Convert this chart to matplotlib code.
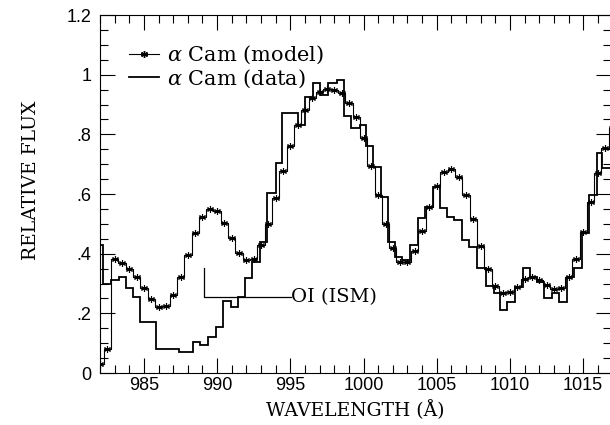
import matplotlib
matplotlib.use("Agg")
import matplotlib.pyplot as plt
from matplotlib.lines import Line2D
import numpy as np

# Synthetic spectrum (model): 0.5 A bins, values at bin centres
model_wave = np.arange(982.0, 1017.01, 0.5)
model_flux = [
    0.030, 0.080, 0.381, 0.368, 0.350, 0.321, 0.284, 0.247, 0.220, 0.225,
    0.260, 0.321, 0.395, 0.468, 0.524, 0.551, 0.542, 0.504, 0.451, 0.403,
    0.379, 0.381, 0.429, 0.498, 0.586, 0.678, 0.762, 0.831, 0.882, 0.921,
    0.941, 0.951, 0.949, 0.938, 0.904, 0.859, 0.787, 0.694, 0.597, 0.498,
    0.420, 0.373, 0.371, 0.409, 0.477, 0.557, 0.627, 0.675, 0.684, 0.658,
    0.597, 0.515, 0.426, 0.348, 0.292, 0.267, 0.270, 0.289, 0.314, 0.321,
    0.312, 0.295, 0.281, 0.284, 0.323, 0.382, 0.474, 0.574, 0.670, 0.755,
    0.820,
]

# Observed spectrum (data): bin edges and binned flux
data_edges = [
    981.90, 982.20, 982.75, 983.27, 983.77, 984.27, 984.75, 985.82, 987.37,
    988.34, 988.83, 989.38, 989.91, 990.43, 990.93, 991.41, 991.89, 992.41,
    992.95, 993.43, 994.00, 994.45, 995.50, 995.97, 996.56, 997.02, 997.57,
    998.20, 998.65, 999.11, 999.74, 1000.17, 1000.65, 1001.20, 1001.65,
    1002.18, 1002.63, 1003.15, 1003.70, 1004.22, 1004.75, 1005.20, 1005.70,
    1006.15, 1006.72, 1007.18, 1007.75, 1008.38, 1008.88, 1009.29, 1009.79,
    1010.36, 1010.88, 1011.38, 1011.88, 1012.33, 1012.86, 1013.38, 1013.88,
    1014.34, 1014.90, 1015.42, 1015.92, 1016.30, 1017.00,
]
data_flux = [
    0.430, 0.300, 0.312, 0.323, 0.284, 0.256, 0.172, 0.080, 0.072, 0.103,
    0.094, 0.122, 0.155, 0.242, 0.222, 0.256, 0.317, 0.373, 0.440, 0.603,
    0.703, 0.870, 0.831, 0.926, 0.971, 0.932, 0.971, 0.982, 0.862, 0.822,
    0.831, 0.761, 0.692, 0.591, 0.440, 0.390, 0.379, 0.429, 0.519, 0.555,
    0.625, 0.552, 0.524, 0.513, 0.446, 0.423, 0.351, 0.292, 0.269, 0.211,
    0.239, 0.289, 0.351, 0.323, 0.306, 0.250, 0.269, 0.239, 0.323, 0.351,
    0.468, 0.597, 0.737, 0.686,
]

x_ticks = [985, 990, 995, 1000, 1005, 1010, 1015]
y_ticks = [0, 0.2, 0.4, 0.6, 0.8, 1.0, 1.2]
y_tick_labels = ["0", ".2", ".4", ".6", ".8", "1", "1.2"]

# Interstellar O I marker
oi_wave = 989.1
oi_top = 0.352
oi_level = 0.255
oi_text_x = 995.02
oi_text = "OI (ISM)"

serif = "DejaVu Serif"
plt.rcParams["mathtext.fontset"] = "dejavuserif"

fig = plt.figure(figsize=(6.1, 4.25), dpi=100)
ax = fig.add_axes([100 / 610, 1 - 373 / 425, 511 / 610, 358 / 425])

ax.step(model_wave, model_flux, where="mid", color="black", lw=0.8,
        marker=(6, 2, 0), markersize=5, markeredgewidth=0.8)
ax.stairs(data_flux, data_edges, color="black", lw=1.3)

ax.plot([oi_wave, oi_wave, oi_text_x], [oi_top, oi_level, oi_level],
        color="black", lw=0.9)
ax.text(oi_text_x + 0.05, oi_level, oi_text, family=serif, fontsize=14,
        va="center", ha="left")

ax.set_xlim(982.07, 1016.9)
ax.set_ylim(0, 1.2)
ax.set_xticks(x_ticks)
ax.set_xticks(np.arange(982, 1017, 1), minor=True)
ax.set_yticks(y_ticks, y_tick_labels)
ax.set_yticks(np.arange(0, 1.201, 0.05), minor=True)
ax.tick_params(which="both", direction="in", top=True, right=True, width=0.8)
ax.tick_params(which="major", length=11)
ax.tick_params(which="minor", length=5.5)
ax.tick_params(axis="x", pad=3)
ax.tick_params(axis="y", pad=6)
for lab in ax.get_xticklabels() + ax.get_yticklabels():
    lab.set_family("Liberation Sans")
    lab.set_fontsize(13)
for sp in ax.spines.values():
    sp.set_linewidth(0.8)

ax.set_xlabel("WAVELENGTH (Å)", family=serif, fontsize=13.5, labelpad=4)
ax.set_ylabel("RELATIVE FLUX", family=serif, fontsize=13.5)
ax.yaxis.set_label_coords(-0.118, 0.539)

handles = [
    Line2D([], [], color="black", lw=0.8, marker=(6, 2, 0), markersize=5),
    Line2D([], [], color="black", lw=1.3),
]
labels = [r"$\alpha$ Cam (model)", r"$\alpha$ Cam (data)"]
ax.legend(handles, labels, loc="upper left", bbox_to_anchor=(0.057, 0.92),
          frameon=False, borderpad=0, borderaxespad=0, handlelength=1.45,
          handletextpad=0.35, labelspacing=0.05,
          prop={"family": serif, "size": 15})

fig.savefig("out.png", dpi=100)
